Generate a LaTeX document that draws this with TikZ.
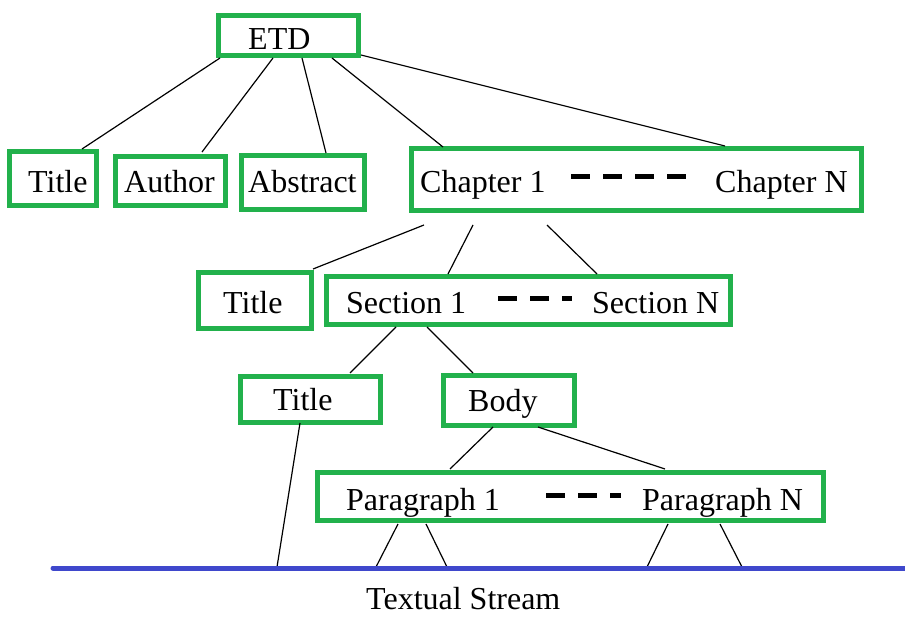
\documentclass[tikz,border=0pt]{standalone}
\usepackage{fontspec}
\setmainfont{Liberation Serif}
\definecolor{boxgreen}{HTML}{22B14C}
\definecolor{streamblue}{HTML}{3F48CC}
\begin{document}
\begin{tikzpicture}[x=1pt,y=-1pt,
  gbox/.style={draw=boxgreen,line width=5pt,rectangle,inner sep=0pt},
  lbl/.style={anchor=base west,inner sep=0pt,font=\fontsize{32}{38}\selectfont},
  conn/.style={draw=black,line width=1.2pt},
  dots/.style={line width=5pt,dash pattern=on 19pt off 13pt},
  stream/.style={draw=streamblue,line width=5pt,line cap=round}]
\useasboundingbox[fill=white] (0,0) rectangle (905,631);
% boxes
\node[gbox,minimum width=140pt,minimum height=40pt] (etd) at (288.5,35.5) {};
\node[gbox,minimum width=87pt,minimum height=54pt] (title1) at (53,178.5) {};
\node[gbox,minimum width=110pt,minimum height=49pt] (author) at (170.5,181) {};
\node[gbox,minimum width=123pt,minimum height=54pt] (abstract) at (303,182.5) {};
\node[gbox,minimum width=450pt,minimum height=62pt] (chap) at (636.5,179.5) {};
\node[gbox,minimum width=113pt,minimum height=56pt] (title2) at (255,300) {};
\node[gbox,minimum width=404pt,minimum height=48pt] (sec) at (528.5,300.5) {};
\node[gbox,minimum width=140pt,minimum height=46pt] (title3) at (310.5,399.5) {};
\node[gbox,minimum width=131pt,minimum height=50pt] (body) at (509,400.5) {};
\node[gbox,minimum width=506pt,minimum height=48pt] (para) at (570.5,496.5) {};
% texts
\node[lbl] (tetd) at (248,50) {ETD};
\node[lbl] (ttitle1) at (28,193) {Title};
\node[lbl] (tauthor) at (124,193) {Author};
\node[lbl] (tabstract) at (248,193) {Abstract};
\node[lbl] (tch1) at (420,193) {Chapter 1};
\node[lbl] (tchn) at (715,193) {Chapter N};
\node[lbl] (ttitle2) at (223,313) {Title};
\node[lbl] (tsec1) at (346,313) {Section 1};
\node[lbl] (tsecn) at (592,313) {Section N};
\node[lbl] (ttitle3) at (273,410) {Title};
\node[lbl] (tbody) at (468,411) {Body};
\node[lbl] (tpara1) at (346,510) {Paragraph 1};
\node[lbl] (tparan) at (642,510) {Paragraph N};
\node[lbl] (tstream) at (366,609) {Textual Stream};
% dashes inside boxes
\coordinate (cd1) at (571,177); \coordinate (cd2) at (687,177);
\coordinate (sd1) at (498,298); \coordinate (sd2) at (572,298);
\coordinate (pd1) at (546,495); \coordinate (pd2) at (621,495);
\draw[dots] (cd1) -- (cd2);
\draw[dots] (sd1) -- (sd2);
\draw[dots] (pd1) -- (pd2);
% stream points
\coordinate (sL) at (53,568);
\coordinate (sR) at (905,568);
\coordinate (s1) at (277,567);
\coordinate (s2) at (376,567);
\coordinate (s3) at (447,567);
\coordinate (s4) at (647,567);
\coordinate (s5) at (742,567);
% connectors
\draw[conn] ([shift={(-68.5,22.5)}]etd.center) -- ([shift={(29,-29.5)}]title1.center);
\draw[conn] ([shift={(-15.5,22.5)}]etd.center) -- ([shift={(31.5,-29)}]author.center);
\draw[conn] ([shift={(13.5,22.5)}]etd.center) -- ([shift={(23,-29.5)}]abstract.center);
\draw[conn] ([shift={(43.5,22.5)}]etd.center) -- ([shift={(-193.5,-32.5)}]chap.center);
\draw[conn] ([shift={(72.5,19.5)}]etd.center) -- ([shift={(88.5,-33.5)}]chap.center);
\draw[conn] ([shift={(-212.5,45.5)}]chap.center) -- ([shift={(58,-31)}]title2.center);
\draw[conn] ([shift={(-163.5,45.5)}]chap.center) -- ([shift={(-80.5,-26.5)}]sec.center);
\draw[conn] ([shift={(-89.5,45.5)}]chap.center) -- ([shift={(68.5,-26.5)}]sec.center);
\draw[conn] ([shift={(-132.5,26.5)}]sec.center) -- ([shift={(39.5,-26.5)}]title3.center);
\draw[conn] ([shift={(-101.5,26.5)}]sec.center) -- ([shift={(-36,-27.5)}]body.center);
\draw[conn] ([shift={(-10.5,23.5)}]title3.center) -- (s1);
\draw[conn] ([shift={(-16,26.5)}]body.center) -- ([shift={(-120.5,-27.5)}]para.center);
\draw[conn] ([shift={(29,26.5)}]body.center) -- ([shift={(94.5,-27.5)}]para.center);
\draw[conn] ([shift={(-172.5,27.5)}]para.center) -- (s2);
\draw[conn] ([shift={(-144.5,27.5)}]para.center) -- (s3);
\draw[conn] ([shift={(97.5,27.5)}]para.center) -- (s4);
\draw[conn] ([shift={(149.5,27.5)}]para.center) -- (s5);
% textual stream line
\draw[stream] (sL) -- (sR);
\end{tikzpicture}
\end{document}
